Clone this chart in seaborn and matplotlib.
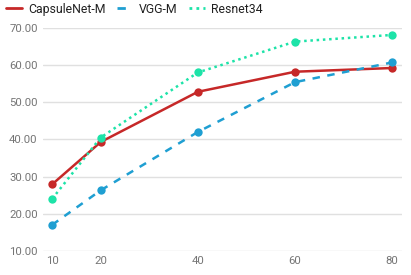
import matplotlib
matplotlib.use("Agg")
import matplotlib.pyplot as plt
import seaborn as sns
import pandas as pd
from matplotlib.lines import Line2D

x_vals = [10, 20, 40, 60, 80]
capsule = [27.9, 39.3, 52.8, 58.2, 59.2]
vgg = [17.0, 26.3, 42.0, 55.4, 60.7]
resnet = [24.0, 40.5, 58.0, 66.3, 68.1]
series_names = ["CapsuleNet-M", "VGG-M", "Resnet34"]
y_ticks = [10, 20, 30, 40, 50, 60, 70]

colors = {"CapsuleNet-M": "#c62828", "VGG-M": "#1f9fd2", "Resnet34": "#1de3a8"}
styles = {"CapsuleNet-M": "-", "VGG-M": (0, (3, 3)), "Resnet34": (0, (1, 1.5))}

df = pd.DataFrame({
    "x": x_vals * 3,
    "y": capsule + vgg + resnet,
    "series": [n for n in series_names for _ in x_vals],
})

sns.set_theme(style="white")
plt.rcParams["font.family"] = ["Roboto", "DejaVu Sans"]

fig = plt.figure(figsize=(4.11, 2.75), dpi=100)
ax = fig.add_axes([0.105, 0.0877, 0.873, 0.811])

for name in series_names:
    sub = df[df.series == name]
    sns.lineplot(data=sub, x="x", y="y", ax=ax, color=colors[name],
                 linestyle=styles[name], linewidth=1.8, marker="o",
                 markersize=6, markeredgewidth=0, legend=False)

ax.set_xlim(8.15, 82)
ax.set_ylim(10, 70)
ax.set_yticks(y_ticks)
ax.set_yticklabels([f"{v:.2f}" for v in y_ticks])
ax.set_xticks(x_vals)
ax.set_xticklabels([str(v) for v in x_vals])
ax.set_xlabel("")
ax.set_ylabel("")
for s in ax.spines.values():
    s.set_visible(False)
ax.yaxis.grid(True, color="#e0e0e0", linewidth=1)
ax.xaxis.grid(False)
ax.tick_params(axis="both", length=0, labelsize=8.2, colors="#757575", pad=4)

handles = [Line2D([0], [0], color=colors[n], linestyle=styles[n], linewidth=2.0)
           for n in series_names]
fig.legend(handles, series_names, loc="upper left", bbox_to_anchor=(-0.012, 1.03),
           ncol=3, frameon=False, fontsize=8.8, handlelength=1.3,
           handletextpad=0.5, columnspacing=0.95, labelcolor="#212121")

fig.savefig("out.png", dpi=100)
